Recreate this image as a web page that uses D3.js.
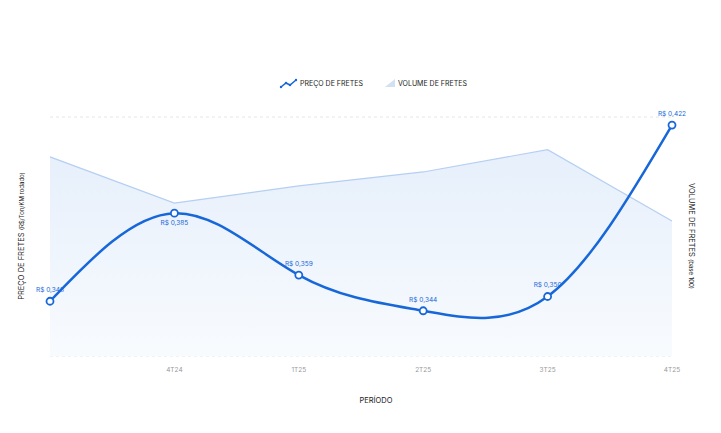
<!DOCTYPE html>
<html><head><meta charset="utf-8">
<script src="https://cdn.jsdelivr.net/npm/d3@7"></script>
<style>body{margin:0;background:#fff;font-family:Inter,"Noto Sans",sans-serif}</style>
</head><body>
<svg width="721" height="433"></svg>
<script>
const periods = ["", "4T24", "1T25", "2T25", "3T25", "4T25"]
const precos = [0.348, 0.385, 0.359, 0.344, 0.350, 0.422]
const volumes = [110, 98.4, 102.7, 106.2, 111.8, 93.9]

const svg = d3.select("svg")
const blue = "#1767d9"

const x = d3.scalePoint().domain(d3.range(periods.length)).range([50, 672])
const y = d3.scaleLinear().domain([0.325, 0.4254]).range([356, 117])
const yv = d3.scaleLinear().domain([60, 120]).range([356, 117])

const defs = svg.append("defs")
const grad = defs.append("linearGradient").attr("id", "g").attr("x1", 0).attr("x2", 0).attr("y1", 0).attr("y2", 1)
grad.append("stop").attr("offset", "0%").attr("stop-color", "#e6effb")
grad.append("stop").attr("offset", "100%").attr("stop-color", "#f8fbfe")

// grid
;[117, 356].forEach(g => svg.append("line").attr("x1", 50).attr("x2", 672).attr("y1", g).attr("y2", g)
  .attr("stroke", "#e3e6ea").attr("stroke-dasharray", "3,3"))

// volume area
svg.append("path").datum(volumes)
  .attr("d", d3.area().x((d, i) => x(i)).y0(356).y1(d => yv(d)))
  .attr("fill", "url(#g)")
svg.append("path").datum(volumes)
  .attr("d", d3.line().x((d, i) => x(i)).y(d => yv(d)))
  .attr("fill", "none").attr("stroke", "#b5cff2").attr("stroke-width", 1.2)

// price line
svg.append("path").datum(precos)
  .attr("d", d3.line().x((d, i) => x(i)).y(d => y(d)).curve(d3.curveNatural))
  .attr("fill", "none").attr("stroke", blue).attr("stroke-width", 2.5)

svg.selectAll("circle.p").data(precos).join("circle")
  .attr("cx", (d, i) => x(i)).attr("cy", d => y(d)).attr("r", 3.5)
  .attr("fill", "#fff").attr("stroke", blue).attr("stroke-width", 1.8)

const below = [false, true, false, false, false, false]
svg.selectAll("text.lbl").data(precos).join("text")
  .attr("x", (d, i) => x(i)).attr("y", (d, i) => below[i] ? y(d) + 12 : y(d) - 9)
  .attr("text-anchor", "middle").attr("font-size", 6.5).attr("fill", blue)
  .text(d => "R$ " + d.toFixed(3).replace(".", ","))

// x labels
svg.selectAll("text.x").data(periods).join("text")
  .attr("x", (d, i) => x(i)).attr("y", 372).attr("text-anchor", "middle")
  .attr("font-size", 6.5).attr("fill", "#999").text(d => d)

svg.append("text").attr("x", 376).attr("y", 403).attr("text-anchor", "middle")
  .attr("font-size", 7.5).attr("fill", "#222").text("PERÍODO")

const lt = svg.append("text").attr("transform", "translate(24,236) rotate(-90)").attr("text-anchor", "middle")
  .attr("font-size", 7.5).attr("fill", "#222")
lt.append("tspan").text("PREÇO DE FRETES ")
lt.append("tspan").attr("font-size", 6).text("(R$/Ton/KM rodado)")

const rt = svg.append("text").attr("transform", "translate(689,236) rotate(90)").attr("text-anchor", "middle")
  .attr("font-size", 7.5).attr("fill", "#222")
rt.append("tspan").text("VOLUME DE FRETES ")
rt.append("tspan").attr("font-size", 6).text("(base 100)")

// legend
const lg = svg.append("g")
lg.append("path").attr("d", "M281,87 L286,83 L290,85 L296,80").attr("fill", "none").attr("stroke", blue).attr("stroke-width", 1.5)
;[[281,87],[286,83],[290,85],[296,80]].forEach(p => lg.append("circle").attr("cx", p[0]).attr("cy", p[1]).attr("r", 1.2).attr("fill", blue))
lg.append("text").attr("x", 300).attr("y", 85.5).attr("font-size", 7).attr("fill", "#222").text("PREÇO DE FRETES")
lg.append("path").attr("d", "M385,87 L395,87 L395,79 Z").attr("fill", "#d2e0f4")
lg.append("text").attr("x", 398).attr("y", 85.5).attr("font-size", 7).attr("fill", "#222").text("VOLUME DE FRETES")
</script>
</body></html>
